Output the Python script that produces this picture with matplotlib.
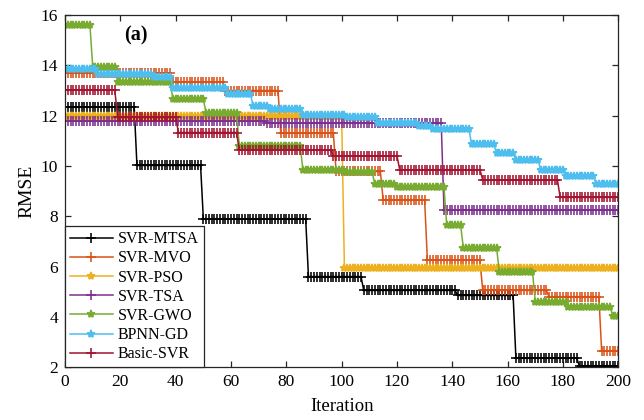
import numpy as np
import matplotlib
matplotlib.use("Agg")
import matplotlib.pyplot as plt

plt.rcParams['font.family'] = ['Liberation Serif', 'DejaVu Serif']

iterations = np.arange(0, 201)

# Step curves: start iteration of each level and the RMSE level
mtsa_starts = [0, 26, 50, 88, 108, 142, 163, 186]
mtsa_levels = [12.35, 10.02, 7.9, 5.6, 5.05, 4.85, 2.35, 2.03]

mvo_starts = [0, 39, 58, 78, 98, 115, 131, 151, 175, 194]
mvo_levels = [13.7, 13.35, 13.0, 11.3, 9.78, 8.65, 6.25, 5.05, 4.8, 2.65]

pso_starts = [0, 101]
pso_levels = [12.0, 5.95]

tsa_starts = [0, 73, 137]
tsa_levels = [11.78, 11.72, 8.25]

gwo_starts = [0, 10, 19, 39, 51, 63, 86, 101, 112, 120, 138, 144, 157, 170, 182, 198]
gwo_levels = [15.6, 13.95, 13.35, 12.65, 12.1, 10.8, 9.85, 9.75, 9.3, 9.15,
              7.65, 6.75, 5.8, 4.6, 4.4, 4.05]

bpnn_starts = [0, 12, 32, 39, 59, 68, 74, 86, 102, 113, 128, 133, 147, 156, 163, 172, 181, 192]
bpnn_levels = [13.87, 13.65, 13.55, 13.12, 12.88, 12.38, 12.28, 12.02, 11.93, 11.72,
               11.58, 11.46, 10.86, 10.5, 10.25, 9.82, 9.6, 9.3]

basic_starts = [0, 19, 41, 63, 97, 121, 151, 179]
basic_levels = [13.02, 11.93, 11.33, 10.63, 10.4, 9.85, 9.45, 8.75]

labels = ['SVR-MTSA', 'SVR-MVO', 'SVR-PSO', 'SVR-TSA', 'SVR-GWO', 'BPNN-GD', 'Basic-SVR']
colors = ['#000000', '#D95319', '#EDB120', '#7E2F8E', '#77AC30', '#4DBEEE', '#A2142F']
markers = ['+', '+', '*', '+', '*', '*', '+']

steps = [
    (mtsa_starts, mtsa_levels),
    (mvo_starts, mvo_levels),
    (pso_starts, pso_levels),
    (tsa_starts, tsa_levels),
    (gwo_starts, gwo_levels),
    (bpnn_starts, bpnn_levels),
    (basic_starts, basic_levels),
]


def expand(starts, levels):
    idx = np.searchsorted(np.asarray(starts), iterations, side='right') - 1
    return np.asarray(levels)[idx]


fig = plt.figure(figsize=(6.44, 4.2), dpi=100)
ax = fig.add_axes([0.101, 0.126, 0.859, 0.838])

for (st, lv), lab, c, m in zip(steps, labels, colors, markers):
    y = expand(st, lv)
    ms = 6.5 if m == '+' else 6
    ax.plot(iterations, y, color=c, marker=m, markersize=ms, markeredgewidth=1.15,
            linewidth=1.1, label=lab)

ax.set_xlim(0, 200)
ax.set_ylim(2, 16)
ax.set_xticks(np.arange(0, 201, 20))
ax.set_yticks(np.arange(2, 17, 2))
ax.tick_params(direction='in', top=True, right=True, labelsize=12.5, length=4.5, width=0.9,
               colors='#262626', labelcolor='black', pad=5)
for sp in ax.spines.values():
    sp.set_linewidth(0.9)
    sp.set_color('#262626')

ax.set_xlabel('Iteration', fontsize=13.5, labelpad=6)
ax.set_ylabel('RMSE', fontsize=14, labelpad=4)
ax.text(21.5, 15.2, '(a)', fontsize=14.5, fontweight='bold', ha='left', va='center')

leg = ax.legend(loc='lower left', borderaxespad=0, fontsize=11.5, fancybox=False,
                framealpha=1, edgecolor='#262626', handlelength=2.7, labelspacing=0.2,
                handletextpad=0.3, borderpad=0.3, numpoints=1)
leg.get_frame().set_linewidth(0.9)

fig.savefig('out.png', dpi=100)
